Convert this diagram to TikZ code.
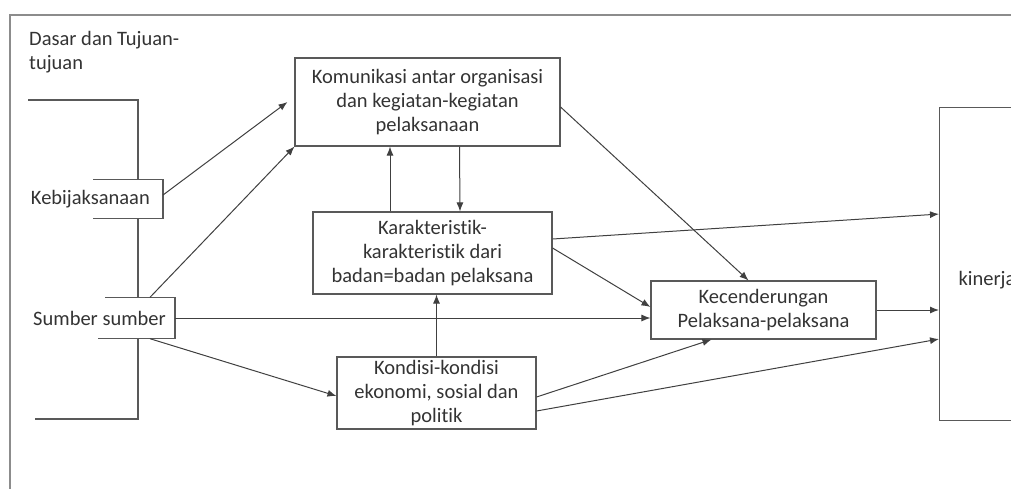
\documentclass[tikz,border=0pt]{standalone}
\usepackage{fontspec}
\setmainfont[Ligatures=NoCommon]{Carlito}
\usetikzlibrary{arrows.meta}
\tikzset{
  box/.style={draw=black!65, line width=1.1pt, align=center, text=black!80, inner sep=2pt},
  lbl/.style={text=black!80},
  edge/.style={draw=black!65, line width=1.1pt},
  arr/.style={draw=black!75, line width=1pt, -{Latex[length=9pt,width=7pt]}}
}
\begin{document}
\begin{tikzpicture}[x=1pt,y=-1pt,font=\fontsize{20.5}{24}\selectfont]
            \useasboundingbox (0,0) rectangle (1011,488);
            \clip (0,0) rectangle (1011,488);
            \draw[black!45, line width=1.2pt] (1020,15) -- (10,15) -- (10,500);
            % left side
            \node[lbl, anchor=north west, align=left, inner sep=0pt] (dasar) at (29,31) {Dasar dan Tujuan-\\tujuan};
            \node[lbl, anchor=east, minimum height=38pt, inner xsep=13pt] (keb) at (163,199) {Kebijaksanaan};
            \node[lbl, anchor=east, minimum height=41pt, inner xsep=9pt] (sum) at (175,318) {Sumber sumber};
            \draw[edge] (28,100) -- (138,100) -- ([xshift=-25pt]keb.north east);
            \draw[edge] ([xshift=-25pt]keb.south east) -- ([xshift=-37pt]sum.north east);
            \draw[edge] ([xshift=-37pt]sum.south east) -- (138,419) -- (35,419);
            \draw[edge] ([xshift=-70pt]keb.north east) -- (keb.north east) -- (keb.south east) -- ([xshift=-70pt]keb.south east);
            \draw[edge] ([xshift=-70pt]sum.north east) -- (sum.north east) -- (sum.south east) -- ([xshift=-77pt]sum.south east);
            % boxes
            \node[box, minimum width=265pt, minimum height=88pt] (kom) at (427.5,102) {Komunikasi antar organisasi\\dan kegiatan-kegiatan\\pelaksanaan};
            \node[box, minimum width=239pt, minimum height=82pt] (kar) at (432.5,253) {Karakteristik-\\karakteristik dari\\badan=badan pelaksana};
            \node[box, minimum width=199pt, minimum height=72pt] (kon) at (436.5,393) {Kondisi-kondisi\\ekonomi, sosial dan\\politik};
            \node[box, minimum width=225pt, minimum height=58pt] (kec) at (763.5,310) {Kecenderungan\\Pelaksana-pelaksana};
            \node[box, anchor=north west, minimum width=200pt, minimum height=313pt] (kin) at (939,107) {};
            \node[lbl, anchor=west] (kinlbl) at (955,280) {kinerja};
            % arrows
            \draw[arr] ([yshift=4pt]keb.east) -- ([xshift=-7pt]kom.west);
            \draw[arr] ([xshift=-25pt]sum.north east) -- (kom.south west);
            \draw[arr] (sum.east) -- (sum.east -| kec.west);
            \draw[arr] ([xshift=-25pt]sum.south east) -- ([yshift=-3pt]kon.west);
            \draw[arr] ([xshift=32pt]kom.south) -- ([xshift=27.5pt]kar.north);
            \draw[arr] ([xshift=-42.5pt]kar.north) -- ([xshift=-37.5pt]kom.south);
            \draw[arr] (kon.north) -- (kon.north |- kar.south);
            \draw[arr] ([yshift=-5pt]kom.east) -- ([xshift=-15pt]kec.north);
            \draw[arr] ([yshift=14pt]kar.east) -- ([yshift=50pt]kin.west);
            \draw[arr] ([yshift=5pt]kar.east) -- ([yshift=3pt]kec.west);
            \draw[arr] ([yshift=-4pt]kon.east) -- ([xshift=-52pt]kec.south);
            \draw[arr] ([yshift=-18pt]kon.east) -- ([yshift=-75pt]kin.west);
            \draw[arr] (kec.east) -- (kec.east -| kin.west);
\end{tikzpicture}
\end{document}
